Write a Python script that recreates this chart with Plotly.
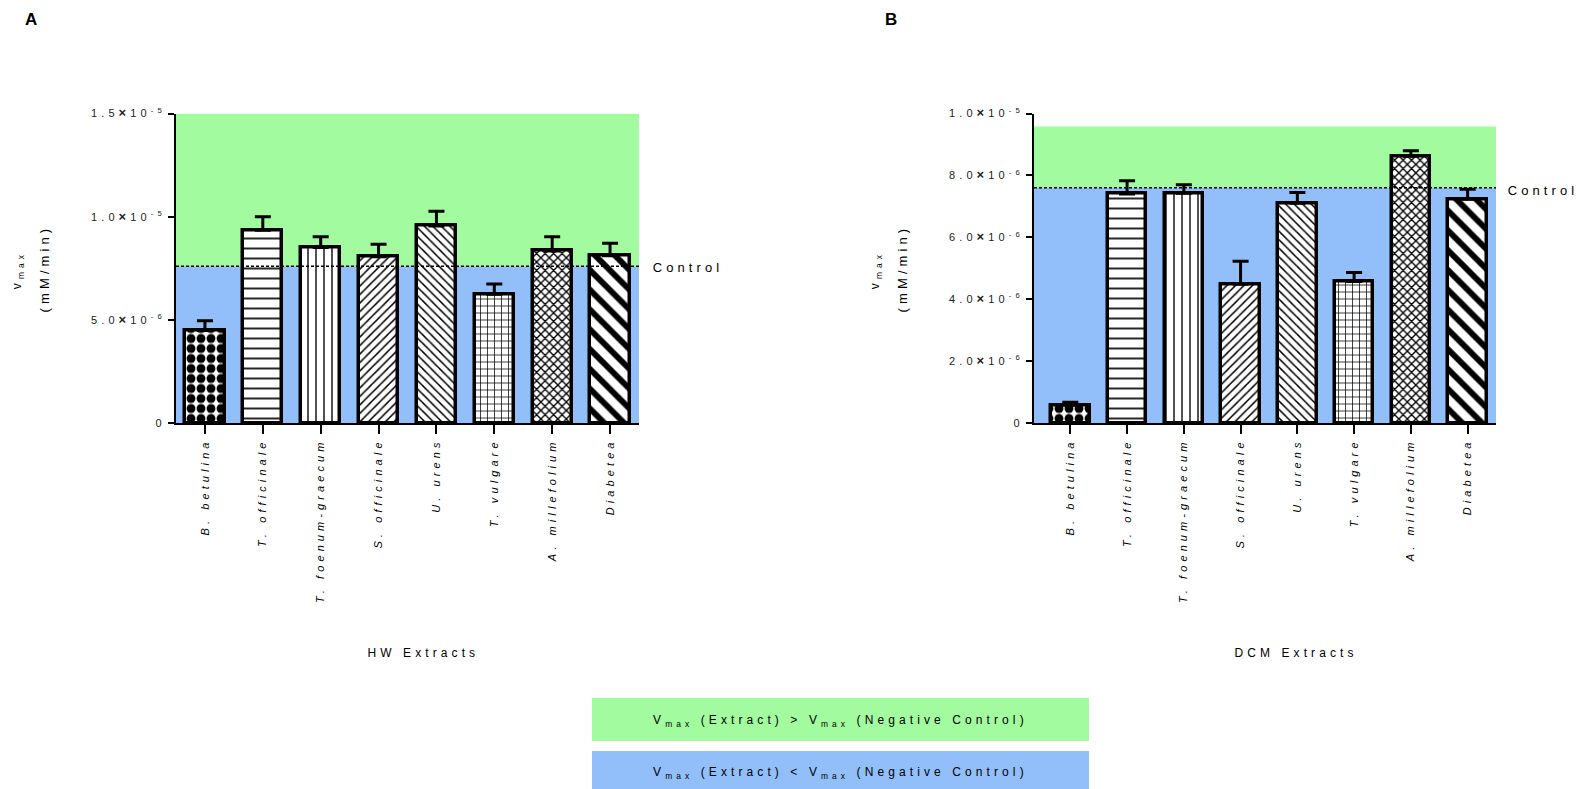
import plotly.graph_objects as go

# ---------------- data ----------------
categories = ["B. betulina", "T. officinale", "T. foenum-graecum", "S. officinale",
              "U. urens", "T. vulgare", "A. millefolium", "Diabetea"]
hw_vmax = [4.48e-6, 9.34e-6, 8.50e-6, 8.06e-6, 9.55e-6, 6.24e-6, 8.34e-6, 8.10e-6]
hw_err = [0.47e-6, 0.66e-6, 0.53e-6, 0.60e-6, 0.71e-6, 0.50e-6, 0.69e-6, 0.61e-6]
dcm_vmax = [0.57e-6, 7.40e-6, 7.42e-6, 4.48e-6, 7.10e-6, 4.57e-6, 8.62e-6, 7.23e-6]
dcm_err = [0.10e-6, 0.43e-6, 0.28e-6, 0.75e-6, 0.35e-6, 0.29e-6, 0.18e-6, 0.32e-6]
control_vmax = 7.6e-6
hw_zone_top = 1.5e-5
dcm_zone_top = 9.58e-6

X = "<span style='font-size:13px'><b>×</b></span>"
hw_ticks = [0, 5e-6, 1e-5, 1.5e-5]
hw_ticktext = ["0", "5.0" + X + "10<sup>-6</sup>", "1.0" + X + "10<sup>-5</sup>", "1.5" + X + "10<sup>-5</sup>"]
dcm_ticks = [0, 2e-6, 4e-6, 6e-6, 8e-6, 1e-5]
dcm_ticktext = ["0", "2.0" + X + "10<sup>-6</sup>", "4.0" + X + "10<sup>-6</sup>", "6.0" + X + "10<sup>-6</sup>",
                "8.0" + X + "10<sup>-6</sup>", "1.0" + X + "10<sup>-5</sup>"]

pattern_shapes = [".", "-", "|", "/", "\\", "+", "x", "\\"]
pattern_sizes = [10, 10, 8, 6, 6, 7, 6, 14]
pattern_solid = [0.62, 0.17, 0.17, 0.25, 0.25, 0.2, 0.4, 0.42]

GREEN = "#A2FB9F"
BLUE = "#92BFF9"
FONT = "Liberation Sans, Arial, sans-serif"

W, H = 1583, 789


def px(x):
    return x / W


def py(y):
    return 1 - y / H


fig = go.Figure()
xs = list(range(len(categories)))

for vals, errs, xa, ya in [(hw_vmax, hw_err, "x", "y"), (dcm_vmax, dcm_err, "x2", "y2")]:
    fig.add_trace(go.Bar(
        x=xs, y=vals, xaxis=xa, yaxis=ya, width=0.68,
        marker=dict(
            color="white",
            line=dict(color="black", width=3.5),
            pattern=dict(shape=pattern_shapes, size=pattern_sizes, solidity=pattern_solid,
                         fgcolor="black", bgcolor="white", fgopacity=1, fillmode="replace"),
        ),
        error_y=dict(type="data", array=errs, arrayminus=[0] * len(errs), symmetric=False,
                     color="black", thickness=3, width=8),
        showlegend=False, hoverinfo="skip",
    ))

y_top = py(113.5)
y_bot = py(423)
common_x = dict(showline=True, linecolor="black", linewidth=2, ticks="outside", ticklen=9,
                tickwidth=2, tickcolor="black", tickangle=-90, tickvals=xs, ticktext=categories,
                tickfont=dict(family=FONT, size=11, color="black", style="italic"),
                showgrid=False, zeroline=False, fixedrange=True, automargin=False)
common_y = dict(showline=True, linecolor="black", linewidth=2, ticks="outside", ticklen=6,
                tickwidth=2, tickcolor="black", tickfont=dict(family=FONT, size=11, color="#222"),
                showgrid=False, zeroline=False, fixedrange=True, automargin=False)

fig.update_layout(
    template="none",
    width=W, height=H, margin=dict(l=0, r=0, t=0, b=0, pad=0, autoexpand=False),
    paper_bgcolor="white", plot_bgcolor="white", bargap=0,
    xaxis=dict(common_x, domain=[px(176), px(639)], range=[-0.5, 7.5], anchor="y"),
    yaxis=dict(common_y, domain=[y_bot, y_top], range=[0, 1.5e-5], tickvals=hw_ticks,
               ticktext=hw_ticktext, anchor="x"),
    xaxis2=dict(common_x, domain=[px(1034), px(1496)], range=[-0.64, 7.5], anchor="y2"),
    yaxis2=dict(common_y, domain=[y_bot, y_top], range=[0, 1.0e-5], tickvals=dcm_ticks,
                ticktext=dcm_ticktext, anchor="x2"),
)

shapes = []
for xr, yr, top in [("x domain", "y", hw_zone_top), ("x2 domain", "y2", dcm_zone_top)]:
    shapes.append(dict(type="rect", xref=xr, yref=yr, x0=0, x1=1, y0=control_vmax, y1=top,
                       fillcolor=GREEN, line=dict(width=0), layer="below"))
    shapes.append(dict(type="rect", xref=xr, yref=yr, x0=0, x1=1, y0=0, y1=control_vmax,
                       fillcolor=BLUE, line=dict(width=0), layer="below"))
    shapes.append(dict(type="line", xref=xr, yref=yr, x0=0, x1=1, y0=control_vmax, y1=control_vmax,
                       line=dict(color="black", width=1.5, dash="3px,2px"), layer="above"))

# legend boxes
shapes.append(dict(type="rect", xref="paper", yref="paper", x0=px(592), x1=px(1089), y0=py(741), y1=py(698),
                   fillcolor=GREEN, line=dict(width=0)))
shapes.append(dict(type="rect", xref="paper", yref="paper", x0=px(592), x1=px(1089), y0=py(789), y1=py(751),
                   fillcolor=BLUE, line=dict(width=0)))
fig.update_layout(shapes=shapes)

ann = []


def add_text(x, y, text, size=12, angle=0, bold=False):
    ann.append(dict(xref="paper", yref="paper", x=px(x), y=py(y), text=("<b>%s</b>" % text) if bold else text,
                    showarrow=False, xanchor="center", yanchor="middle", textangle=angle,
                    font=dict(family=FONT, size=size, color="black")))


add_text(33, 20, "A", size=17, bold=True)
add_text(893, 20, "B", size=17, bold=True)
# y titles
add_text(18, 270, "v<sub>max</sub>", size=12, angle=-90)
add_text(44, 269, "(mM/min)", size=13, angle=-90)
add_text(876, 270, "v<sub>max</sub>", size=12, angle=-90)
add_text(902, 269, "(mM/min)", size=13, angle=-90)
# x titles
add_text(423, 653, "HW Extracts", size=12)
add_text(1296, 653, "DCM Extracts", size=12)
# control labels
add_text(688, 268, "Control", size=13)
add_text(1543, 190, "Control", size=13)
# legend texts
add_text(840, 721, "V<sub>max</sub> (Extract) &gt; V<sub>max</sub> (Negative Control)", size=12)
add_text(840, 773, "V<sub>max</sub> (Extract) &lt; V<sub>max</sub> (Negative Control)", size=12)
fig.update_layout(annotations=ann)

post = """
var st=document.createElement('style');
st.textContent='body{margin:0;overflow:hidden} .main-svg text{letter-spacing:4.1px}';
document.head.appendChild(st);
"""
fig.write_html("out.html", config={"displayModeBar": False}, post_script=post)
